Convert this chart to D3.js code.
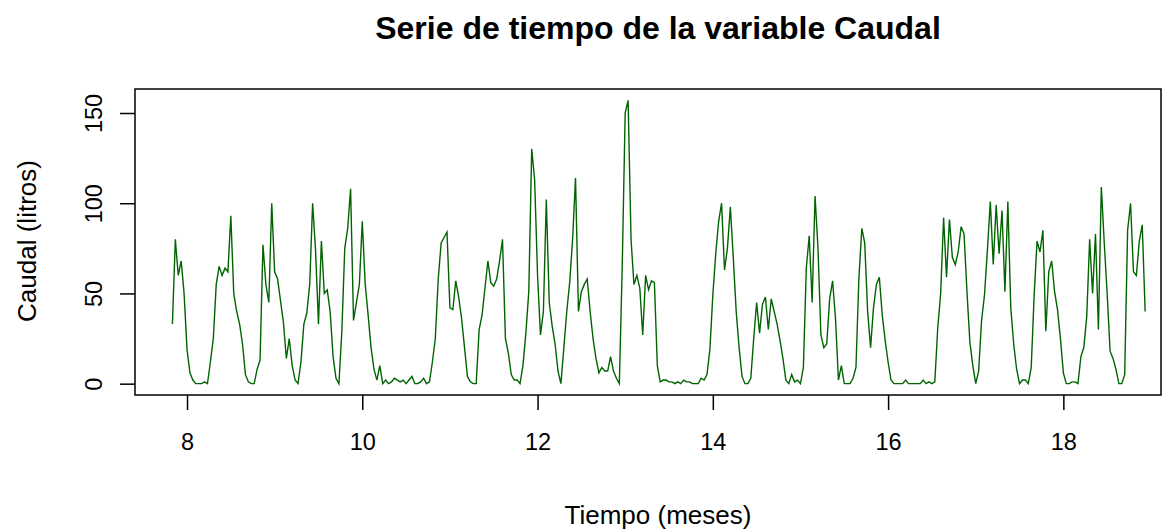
<!DOCTYPE html>
<html>
<head>
<meta charset="utf-8">
<script src="https://cdn.jsdelivr.net/npm/d3@7"></script>
<style>
  body { margin: 0; background: #fff; }
  svg text { font-family: "Liberation Sans", Arial, sans-serif; fill: #000; }
</style>
</head>
<body>
<div class="chart"></div>
<script>
let width = 1173
let height = 529

// serie diaria (mes + dia/30)
const inicio = 7.8333
const paso = 1 / 30
const caudal = [
  33, 80, 60, 68, 50, 19, 6, 2, 0, 0, 0, 1, 0, 12, 25, 55, 65, 60, 64, 62,
  93, 50, 40, 33, 22, 5, 1, 0, 0, 8, 13, 77, 55, 45, 100, 62, 58, 46, 34, 14,
  25, 10, 2, 0, 12, 33, 39, 55, 100, 74, 33, 79, 50, 52, 40, 15, 3, 0, 29, 75,
  86, 108, 35, 45, 55, 90, 55, 38, 20, 8, 2, 10, 0, 2, 0, 1, 3, 2, 1, 2,
  0, 2, 4, 0, 0, 1, 3, 0, 1, 12, 25, 58, 78, 81, 84, 42, 41, 57, 48, 36,
  20, 4, 1, 0, 0, 30, 38, 53, 68, 56, 54, 58, 68, 80, 25, 17, 5, 2, 2, 0,
  10, 28, 51, 130, 113, 60, 27, 40, 102, 45, 32, 22, 7, 0, 20, 40, 56, 80, 114, 40,
  51, 55, 58, 40, 25, 14, 6, 9, 7, 7, 15, 7, 3, 0, 66, 150, 157, 80, 55, 60,
  53, 27, 60, 52, 57, 56, 10, 1, 2, 2, 1, 1, 0, 1, 0, 2, 1, 1, 0, 0,
  0, 3, 2, 5, 19, 49, 72, 90, 100, 63, 75, 98, 70, 40, 20, 4, 0, 0, 3, 25,
  45, 28, 44, 48, 30, 47, 40, 33, 24, 14, 2, 0, 5, 1, 2, 0, 9, 64, 82, 45,
  104, 75, 27, 20, 22, 47, 57, 36, 2, 10, 0, 0, 0, 3, 9, 58, 86, 78, 40, 20,
  42, 55, 59, 38, 24, 12, 2, 0, 0, 0, 0, 2, 0, 0, 0, 0, 0, 2, 0, 1,
  0, 1, 31, 50, 92, 59, 91, 70, 66, 73, 87, 83, 51, 23, 10, 0, 7, 35, 49, 74,
  101, 66, 99, 72, 96, 51, 101, 42, 22, 8, 0, 2, 2, 0, 9, 49, 79, 73, 85, 29,
  62, 68, 51, 41, 25, 6, 0, 0, 1, 1, 0, 15, 20, 37, 80, 50, 83, 30, 109, 78,
  50, 18, 14, 8, 0, 0, 5, 85, 100, 62, 60, 79, 88, 40
]
const xTicks = [8, 10, 12, 14, 16, 18]
const yTicks = [0, 50, 100, 150]

const titulo = "Serie de tiempo de la variable Caudal"
const xLab = "Tiempo (meses)"
const yLab = "Caudal (litros)"

const data = caudal.map((v, i) => ({t: inicio + i * paso, v: v}))

const mLeft = 135, mRight = 1161, mTop = 89, mBottom = 395
const centro = 658

const x = d3.scaleLinear()
  .domain([7.4064, 19.1142])
  .range([mLeft, mRight])
const y = d3.scaleLinear()
  .domain([-6.28, 163.3])
  .range([mBottom, mTop])

const svg = d3.select(".chart")
  .append("svg")
  .attr("width", width)
  .attr("height", height)

svg.append("path")
  .datum(data)
  .attr("d", d3.line().x(d => x(d.t)).y(d => y(d.v)))
  .attr("fill", "none")
  .attr("stroke", "#006400")
  .attr("stroke-width", 1.4)

// caja
svg.append("rect")
  .attr("x", mLeft).attr("y", mTop)
  .attr("width", mRight - mLeft).attr("height", mBottom - mTop)
  .attr("fill", "none")
  .attr("stroke", "#000")
  .attr("stroke-width", 1.5)

const xAxis = svg.append("g")
  .attr("transform", `translate(0,${mBottom})`)
  .call(d3.axisBottom(x).tickValues(xTicks).tickSize(15).tickPadding(23).tickFormat(d3.format("d")))
xAxis.select(".domain").remove()
xAxis.selectAll("line").attr("stroke-width", 1.5)
xAxis.selectAll("text").attr("font-size", 23.5).attr("font-family", null)

const yAxis = svg.append("g")
  .attr("transform", `translate(${mLeft},0)`)
  .call(d3.axisLeft(y).tickValues(yTicks).tickSize(15).tickFormat(d3.format("d")))
yAxis.select(".domain").remove()
yAxis.selectAll("line").attr("stroke-width", 1.5)
yAxis.selectAll("text")
  .attr("font-size", 23.5)
  .attr("font-family", null)
  .attr("text-anchor", "middle")
  .attr("x", 0).attr("dy", 0)
  .attr("transform", "translate(-39,0) rotate(-90)")
  .attr("dominant-baseline", "middle")

svg.append("text")
  .attr("x", centro)
  .attr("y", 39)
  .attr("text-anchor", "middle")
  .attr("font-size", 32)
  .attr("font-weight", "bold")
  .text(titulo)

svg.append("text")
  .attr("x", centro)
  .attr("y", 524)
  .attr("text-anchor", "middle")
  .attr("font-size", 26)
  .text(xLab)

svg.append("text")
  .attr("transform", `translate(36,${(mTop + mBottom) / 2 - 1}) rotate(-90)`)
  .attr("text-anchor", "middle")
  .attr("font-size", 26)
  .text(yLab)
</script>
</body>
</html>
